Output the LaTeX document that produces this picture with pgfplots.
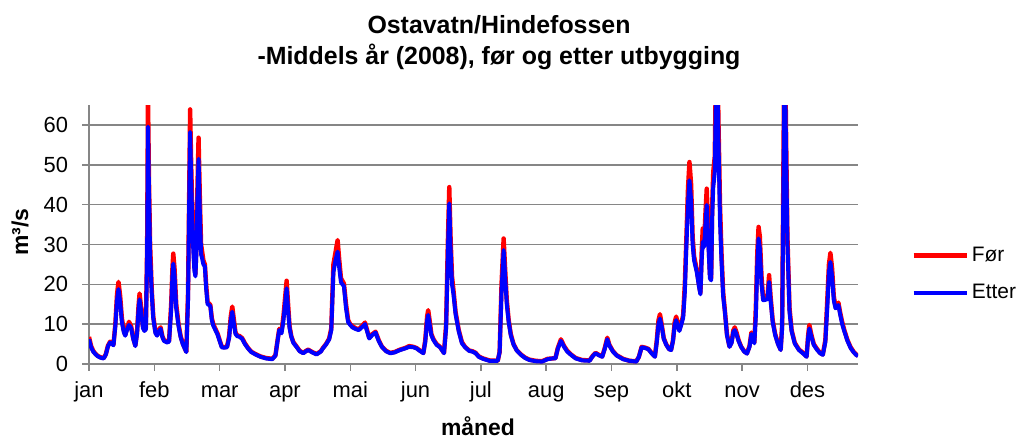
\documentclass[border=0pt]{standalone}
\usepackage{pgfplots}
\pgfplotsset{compat=1.18}
\usepackage{pgfplotstable}
\usepackage{fontspec}
\setmainfont{Liberation Sans}
\definecolor{gridgray}{RGB}{134,134,134}
\pgfplotstableread{
day for etter
0 6.8 6.2
1 4.5 4.2
2 3.3 3.1
3 2.6 2.5
4 2.1 2.0
5 1.8 1.7
6 1.6 1.5
7 1.5 1.4
8 2.5 2.4
9 4.6 4.4
10 5.6 5.4
11 5.2 5.0
11.6 4.8 4.7
12.5 10 9.5
13.3 17.5 16
14 20.6 18.8
14.8 17 15.5
15.6 11.5 10.5
16.5 8.5 8
17.2 7.3 7.1
18 8.8 8.5
19 10.6 9.8
20 9.5 9
21 6.5 6.3
22 4.6 4.5
22.8 8 7.5
23.5 14.5 13.5
24 17.7 16.2
24.8 14 13
25.6 9.5 9
26.3 8.5 8.3
27 9 8.7
27.6 30 28
28 67 59.6
28.5 45 42
29 30 27
29.8 18.5 17.5
30.5 12 11.5
31.5 8.2 7.8
32.3 7.3 7.1
33 8.4 8
34 9.2 8.8
34.8 7 6.8
35.6 6 5.8
37 5.6 5.4
38 5.8 5.6
39 15 13.5
39.6 24 22
40 27.7 25.2
40.6 24 22
41.4 15 14
42.5 10 9.5
43.5 7 6.7
44.5 5.2 5
45.5 3.9 3.8
46.2 3.1 3.0
47 18 16
47.6 45 42
48 63.9 58.2
48.5 50 46
49.2 35 32
50 25 23.5
50.5 22.5 22
51 30 28
51.5 45 42
52 56.8 51.5
52.6 42 38
53.2 30 27.5
53.7 28.2 26.5
54.3 26 25
55 25 24.5
55.6 20 19
56.3 15.4 15
57 15.2 14.8
57.6 14.8 14.5
58.3 11.5 11
59 10 9.6
60 8.8 8.5
61 7.7 7.4
62 6 5.8
63 4.4 4.2
64 4.2 4.1
65.5 4.3 4.2
66.5 7 6.5
67.3 12 11
68 14.4 13.1
68.8 11 10
69.5 8 7.6
70.3 7.2 7
71.5 7 6.8
72.7 6.5 6.3
74 5.2 5
75.5 4 3.9
77 3.1 3.0
79 2.5 2.4
81.4 1.9 1.8
84 1.5 1.4
87 1.3 1.2
88.5 2.2 2.1
89.5 6 5.8
90.3 8.8 8.5
91.4 8.2 7.7
92.3 12 11
93.8 20.9 19
94.5 15 13.5
95.2 9.5 9
96 7 6.9
97 5.5 5.3
98.5 4.4 4.3
100 3.3 3.2
101.7 2.8 2.7
103 3.3 3.2
104 3.6 3.5
106 3.0 2.9
108 2.5 2.4
110 3.2 3.1
111 4.0 3.9
112.5 5 4.9
114 6.4 6.2
115 9 8.5
116 25 23
117 28 26
118 31.1 28.2
118.8 26 24
119.6 21.5 20.5
121 20.2 19.5
122 15 14
123 11 10.5
124 10 9.8
125 9.5 9.2
126.5 9 8.8
128 8.7 8.5
129.5 9.5 9.2
131 10.4 10
132 8.5 8.2
133 6.6 6.4
134.5 7.5 7.3
136 8.1 7.9
137.5 6 5.8
139 4.4 4.3
141 3.3 3.2
143 2.8 2.7
145 3.0 2.9
147.6 3.6 3.5
150 4.0 3.9
152 4.5 4.3
154 4.3 4.2
155.5 4.0 3.9
157 3.4 3.3
158.7 2.8 2.7
159.6 6 5.5
160.5 12 11
161 13.5 12.3
161.8 10.5 9.5
162.5 7.5 7.2
163.5 6.2 6
165 5.0 4.8
166.6 4.3 4.2
168.5 2.8 2.7
169.5 10 9
170.3 30 27
171 44.4 40.3
171.6 32 29
172.3 22 20
173 18.5 17.5
174 13 12.5
175.5 8.5 8.2
177 5.5 5.2
178.5 4.3 4.2
180.4 3.4 3.3
182 3.2 3.1
183.5 2.8 2.7
185 1.9 1.8
187 1.4 1.3
190 0.9 0.8
194 0.8 0.8
194.9 3 3
195.8 20 18
196.8 31.5 28.6
197.5 24 22
198.3 16 15
199.2 11 10.5
200.2 7.5 7.2
201.5 5 4.9
203 3.5 3.4
205 2.4 2.3
207 1.6 1.5
209 1.1 1.0
212 0.8 0.7
215 0.7 0.6
217.7 1.3 1.2
220 1.4 1.4
221.4 1.5 1.4
222.5 4 3.8
224 6.2 5.8
225.5 4.5 4.3
227 3.3 3.1
229 2.3 2.2
231 1.5 1.4
234 1.0 0.9
237.6 0.9 0.8
239 2 1.9
240.4 2.8 2.7
242 2.3 2.2
243.6 1.9 1.8
244.8 4 3.8
246 6.6 6.2
247 4.8 4.6
248.7 3.2 3.1
250.5 2.2 2.1
253.5 1.3 1.2
256.5 0.8 0.8
259.8 0.7 0.6
261 1.8 1.8
262.3 4.3 4.2
264 4.1 4.0
265.5 3.8 3.7
267 2.8 2.7
268.6 1.9 1.8
269.5 6 5.5
270.3 11 10
271 12.5 11.4
271.8 10 9.5
272.8 6.5 6.3
274 4.9 4.8
275.3 3.8 3.7
276.3 3.6 3.5
277.2 6 5.8
278 10.5 9.8
278.7 11.9 11
279.5 10 9.5
280.2 8.6 8.3
281 10 9.6
282 12.2 11.6
282.8 20 18
283.5 31 29
284.3 44 40
285 50.7 46.1
285.8 45 41
286.5 32 30
287.2 27 26
288.5 23.6 23
289.5 20 19.5
290.2 17.8 17.5
290.8 28 26
291.3 34 30.7
292 31 29.4
292.6 38 35
293.2 44 39.9
294 32 30
294.7 22.5 21.5
295.3 21.5 21
295.8 40 37
296.3 48.2 44.4
297 52 48
297.6 75 68
298.2 80 74
298.8 60 55
299.5 40 36
300.2 28 26
301 18 17
301.8 13.5 13.2
302.8 7.5 7.2
304 4.4 4.3
305 5.5 5.3
305.8 8.4 8
306.5 9.2 8.5
307.3 8 7.5
308.3 6 5.8
309.5 4.4 4.3
311 3.2 3.1
312.3 2.7 2.6
313.5 4.5 4.3
314.4 7.9 7.5
315.2 6.7 6.4
315.8 5.4 5.2
316.5 14 12
317.2 28 25
317.8 34.4 31.5
318.4 32 29
319.2 22 20
320 16.3 16
321 16.4 16.1
322 16.6 16.3
322.8 22.3 20.6
323.5 17 16
324.5 11 10.5
325.7 7.5 7.2
327 5.2 5.0
328.3 3.6 3.5
329 10 9
329.6 50 45
330.2 90 80
330.8 60 55
331.5 32 30
332.5 14 13
333.5 8.5 8.2
335 5.3 5.1
337 3.6 3.5
339 2.8 2.6
340.6 1.9 1.8
341.3 7 6.5
341.9 9.8 8.9
342.8 7.5 7
344 5 4.8
345.5 3.8 3.6
347 2.8 2.7
348.3 2.4 2.3
349.5 6 5.5
350.5 17 15
351.2 25 23
351.9 27.9 25.6
352.7 24 22
353.5 17 16
354.3 14.5 14
355 14.8 14.2
355.7 15.4 14.8
356.5 13 12.5
357.5 10.5 10
358.5 8.5 8.2
360 6 5.8
361.5 4.2 4.0
363 3.0 2.9
364.3 2.3 2.2
365 2.1 2.0
}\flowdata
\begin{document}
\begin{tikzpicture}
\path[use as bounding box] (0,0) rectangle (511.5bp,220bp);
\node[anchor=base, font=\fontsize{12.5}{15}\selectfont\bfseries] at (249.5bp,203bp) {Ostavatn/Hindefossen};
\node[anchor=base, font=\fontsize{12.5}{15}\selectfont\bfseries] at (249.5bp,187.5bp) {-Middels år (2008), før og etter utbygging};
\node[anchor=base, rotate=90, font=\fontsize{11.5}{14}\selectfont\bfseries] at (14bp,104bp) {m³/s};
\node[anchor=base, font=\fontsize{11.5}{14}\selectfont\bfseries] at (239bp,2.5bp) {måned};
\begin{axis}[
  at={(44.5bp,38bp)}, anchor=south west,
  scale only axis, width=384.5bp, height=129.5bp,
  xmin=0, xmax=365, ymin=0, ymax=65,
  axis lines=left,
  axis line style={-, gridgray, line width=0.75bp},
  xtick={0,31,62,93,124,155,186,217,248,279,310,341},
  xticklabels={jan,feb,mar,apr,mai,jun,jul,aug,sep,okt,nov,des},
  ytick={0,10,20,30,40,50,60},
  ymajorgrids,
  grid style={gridgray, line width=0.75bp},
  tick align=outside,
  major tick length=3.5bp,
  major tick style={gridgray, line width=0.75bp},
  tick label style={font=\fontsize{11}{13}\selectfont},
  x tick label style={text height=8bp, text depth=2.5bp, yshift=-1.5bp},
  y tick label style={xshift=-3.5bp},
  /pgf/number format/assume math mode=true,
  legend style={draw=none, fill=none, at={(1.069,0.347)}, anchor=west,
    font=\fontsize{10.5}{12}\selectfont, row sep=6bp, inner sep=0pt,
    nodes={inner xsep=1.5bp}},
  legend cell align=left,
  legend image code/.code={\draw[#1] (0bp,0bp) -- (26.5bp,0bp);},
  line join=round,
]
\addplot[red, line width=2.2bp] table[x=day, y=for] {\flowdata};
\addlegendentry{Før}
\addplot[blue, line width=2bp] table[x=day, y=etter] {\flowdata};
\addlegendentry{Etter}
\end{axis}
\end{tikzpicture}
\end{document}
